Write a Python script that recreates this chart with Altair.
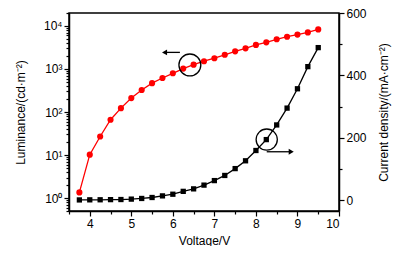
import altair as alt
import pandas as pd

voltage = [3.75, 4.0, 4.25, 4.5, 4.75, 5.0, 5.25, 5.5, 5.75, 6.0, 6.25, 6.5,
           6.75, 7.0, 7.25, 7.5, 7.75, 8.0, 8.25, 8.5, 8.75, 9.0, 9.25, 9.5]
luminance = [1.35, 10.2, 27, 66, 123, 211, 324, 468, 617, 794, 1023, 1259,
             1514, 1778, 2138, 2570, 3020, 3630, 4170, 4900, 5620, 6310, 7080, 8320]
current = [0.5, 0.8, 1.0, 1.5, 1.8, 3.1, 5.2, 8.3, 13.5, 18.8, 28, 36,
           48, 62.5, 79, 101, 126, 159, 194, 241, 295, 357, 428, 489]

# annotation anchors (data coordinates)
lum_circle = {"V": [6.41], "L": [1240]}
lum_arrow = {"V": [6.17], "V2": [5.80], "L": [2430]}
cur_circle = {"V": [8.26], "J": [194]}
cur_arrow = {"V": [8.26], "V2": [8.85], "J": [155]}

df = pd.DataFrame({"V": voltage, "L": luminance, "J": current})

FONT = "Liberation Sans"

x_vals = [3.5 + 0.5 * i for i in range(14)]
x_axis = alt.Axis(values=x_vals, title="Voltage/V",
                  labelExpr="datum.value % 1 == 0 ? format(datum.value, 'd') : ''",
                  tickSize={"condition": {"test": "datum.value % 1 == 0", "value": 5}, "value": 3},
                  grid=False, domainColor="black", domainWidth=1.5,
                  tickColor="black", tickWidth=1.2, labelFontSize=12,
                  titleFontSize=12, titleFontWeight="normal",
                  labelColor="black", titleColor="black",
                  labelFont=FONT, titleFont=FONT, titlePadding=6,
                  labelPadding=2)
x_scale = alt.Scale(domain=[3.5, 10], nice=False, zero=False)


def xq(field):
    return alt.X(field + ":Q", scale=x_scale, axis=x_axis)


log_vals = [k * 10 ** d for d in range(-1, 5) for k in range(1, 10)]
log_vals = [v for v in log_vals if 0.5 <= v <= 20000]
label_expr = ("datum.value == 1 ? '10⁰' : datum.value == 10 ? '10¹' : "
              "datum.value == 100 ? '10²' : datum.value == 1000 ? '10³' : "
              "datum.value == 10000 ? '10⁴' : ''")
is_pow = "datum.value == 1 || datum.value == 10 || datum.value == 100 || datum.value == 1000 || datum.value == 10000"
y_left = alt.Y("L:Q", scale=alt.Scale(type="log", domain=[0.5, 20000], nice=False),
               axis=alt.Axis(orient="left", values=log_vals, labelExpr=label_expr,
                             title="Luminance/(cd·m⁻²)",
                             tickSize={"condition": {"test": is_pow, "value": 5}, "value": 3},
                             grid=False, domainColor="black", domainWidth=1.5,
                             tickColor="black", tickWidth=1.2, labelFontSize=12,
                             titleFontSize=12, titleFontWeight="normal",
                             labelColor="black", titleColor="black",
                             labelFont=FONT, titleFont=FONT, titlePadding=16,
                             labelPadding=2))

y_right = alt.Y("J:Q", scale=alt.Scale(domain=[-35, 600], nice=False, zero=False),
                axis=alt.Axis(orient="right", values=[0, 100, 200, 300, 400, 500, 600],
                              labelExpr="datum.value % 200 == 0 ? datum.label : ''",
                              tickSize={"condition": {"test": "datum.value % 200 == 0", "value": 5}, "value": 3},
                              title="Current density/(mA·cm⁻²)", titleAngle=270,
                              grid=False, domainColor="black", domainWidth=1.5,
                              tickColor="black", tickWidth=1.2, labelFontSize=12,
                              titleFontSize=12, titleFontWeight="normal",
                              labelColor="black", titleColor="black",
                              labelFont=FONT, titleFont=FONT, titlePadding=24,
                              labelPadding=2))

base = alt.Chart(df)
red_line = base.mark_line(color="#ff0000", strokeWidth=1.3).encode(x=xq("V"), y=y_left)
red_pts = base.mark_point(shape="circle", filled=True, color="#ff0000", size=38, opacity=1).encode(x=xq("V"), y=y_left)
c1 = alt.Chart(pd.DataFrame(lum_circle)).mark_point(shape="circle", filled=False, color="black",
                                                      size=480, strokeWidth=1.3, opacity=1).encode(x=xq("V"), y=y_left)
a1 = alt.Chart(pd.DataFrame(lum_arrow)).mark_rule(color="black", strokeWidth=1.3).encode(x=xq("V"), x2="V2", y=y_left)
h1 = alt.Chart(pd.DataFrame(lum_arrow)).mark_point(shape="triangle-left", filled=True, color="black",
                                                     size=34, opacity=1).encode(x=xq("V2"), y=y_left)
left = alt.layer(red_line, red_pts, c1, a1, h1)

blk_line = base.mark_line(color="black", strokeWidth=1.3).encode(x=xq("V"), y=y_right)
blk_pts = base.mark_point(shape="square", filled=True, color="black", size=28, opacity=1).encode(x=xq("V"), y=y_right)
c2 = alt.Chart(pd.DataFrame(cur_circle)).mark_point(shape="circle", filled=False, color="black",
                                                      size=450, strokeWidth=1.3, opacity=1).encode(x=xq("V"), y=y_right)
a2 = alt.Chart(pd.DataFrame(cur_arrow)).mark_rule(color="black", strokeWidth=1.3).encode(x=xq("V"), x2="V2", y=y_right)
h2 = alt.Chart(pd.DataFrame(cur_arrow)).mark_point(shape="triangle-right", filled=True, color="black",
                                                     size=34, opacity=1).encode(x=xq("V2"), y=y_right)
right = alt.layer(blk_line, blk_pts, c2, a2, h2)

chart = alt.layer(left, right).resolve_scale(y="independent").properties(
    width=270, height=198, autosize="none",
    padding={"left": 61, "top": 5, "right": 57, "bottom": 35},
    background="white",
).configure_view(stroke="black", strokeWidth=1.5)

chart.save("out.html", embed_options={"renderer": "svg", "actions": False})
